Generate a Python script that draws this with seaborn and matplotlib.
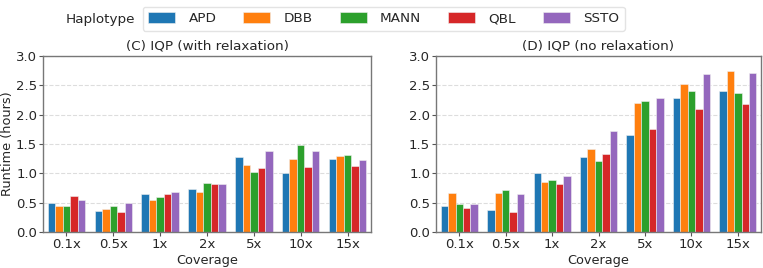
import matplotlib
matplotlib.use("Agg")
import matplotlib.pyplot as plt
import seaborn as sns
import pandas as pd

coverages = ["0.1x", "0.5x", "1x", "2x", "5x", "10x", "15x"]
haplotypes = ["APD", "DBB", "MANN", "QBL", "SSTO"]
colors = ["#1f77b4", "#ff7f0e", "#2ca02c", "#d62728", "#9467bd"]

# (C) IQP with relaxation, runtime (hours), per haplotype over coverages
relax_APD = [0.50, 0.35, 0.64, 0.74, 1.28, 1.01, 1.24]
relax_DBB = [0.44, 0.40, 0.55, 0.68, 1.14, 1.24, 1.30]
relax_MANN = [0.45, 0.45, 0.60, 0.84, 1.03, 1.48, 1.32]
relax_QBL = [0.61, 0.34, 0.65, 0.81, 1.09, 1.11, 1.125]
relax_SSTO = [0.55, 0.49, 0.69, 0.81, 1.375, 1.375, 1.23]

# (D) IQP no relaxation
norelax_APD = [0.44, 0.37, 1.00, 1.28, 1.66, 2.28, 2.41]
norelax_DBB = [0.66, 0.66, 0.86, 1.41, 2.20, 2.53, 2.75]
norelax_MANN = [0.48, 0.72, 0.89, 1.21, 2.23, 2.40, 2.37]
norelax_QBL = [0.41, 0.34, 0.82, 1.33, 1.76, 2.10, 2.18]
norelax_SSTO = [0.47, 0.64, 0.95, 1.72, 2.29, 2.70, 2.71]

relax = [relax_APD, relax_DBB, relax_MANN, relax_QBL, relax_SSTO]
norelax = [norelax_APD, norelax_DBB, norelax_MANN, norelax_QBL, norelax_SSTO]


def to_long(series):
    rows = []
    for h, vals in zip(haplotypes, series):
        for c, v in zip(coverages, vals):
            rows.append({"Coverage": c, "Haplotype": h, "Runtime": v})
    return pd.DataFrame(rows)


sns.set_style("ticks")
plt.rcParams["font.family"] = ["DejaVu Sans"]
FS = 9.3

fig = plt.figure(figsize=(7.63, 2.68), dpi=100)
W, H = 763, 268
axL = fig.add_axes([43 / W, 1 - 232 / H, (371 - 43) / W, (232 - 56) / H])
axR = fig.add_axes([436 / W, 1 - 232 / H, (761 - 436) / W, (232 - 56) / H])

for ax, data, title in [(axL, relax, "(C) IQP (with relaxation)"),
                        (axR, norelax, "(D) IQP (no relaxation)")]:
    df = to_long(data)
    sns.barplot(data=df, x="Coverage", y="Runtime", hue="Haplotype",
                order=coverages, hue_order=haplotypes, palette=colors,
                saturation=1, ax=ax, errorbar=None, legend=True,
                linewidth=0.4, edgecolor="#f0f0f0")
    ax.set_ylim(0, 3.0)
    ax.set_yticks([0, 0.5, 1.0, 1.5, 2.0, 2.5, 3.0])
    ax.set_yticklabels(["0.0", "0.5", "1.0", "1.5", "2.0", "2.5", "3.0"])
    ax.yaxis.grid(True, linestyle="--", color="#dddddd", linewidth=0.8)
    ax.set_axisbelow(True)
    ax.set_title(title, fontsize=FS + 0.4, pad=5)
    ax.set_xlabel("Coverage", fontsize=FS, labelpad=2)
    ax.tick_params(labelsize=FS + 0.2, color="#555555", length=3, pad=1.2)
    for s in ax.spines.values():
        s.set_color("#777777")
        s.set_linewidth(1.0)
    ax.legend_.remove()

axL.set_ylabel("Runtime (hours)", fontsize=FS)
axL.yaxis.set_label_coords((14.5 - 43) / (371 - 43), 0.5)
axR.set_ylabel("")

handles, labels = axL.get_legend_handles_labels()
leg = fig.legend(handles, labels, loc="upper center", ncol=5,
                 bbox_to_anchor=(0.503, 1.0), fontsize=FS + 0.4,
                 frameon=True, handlelength=2.0, handleheight=0.9,
                 columnspacing=2.0, handletextpad=1.0, borderpad=0.4,
                 edgecolor="#dddddd")
fig.text(100 / W, 1 - 19 / H, "Haplotype", fontsize=FS + 0.4,
         ha="center", va="center")

fig.savefig("out.png", dpi=100)
